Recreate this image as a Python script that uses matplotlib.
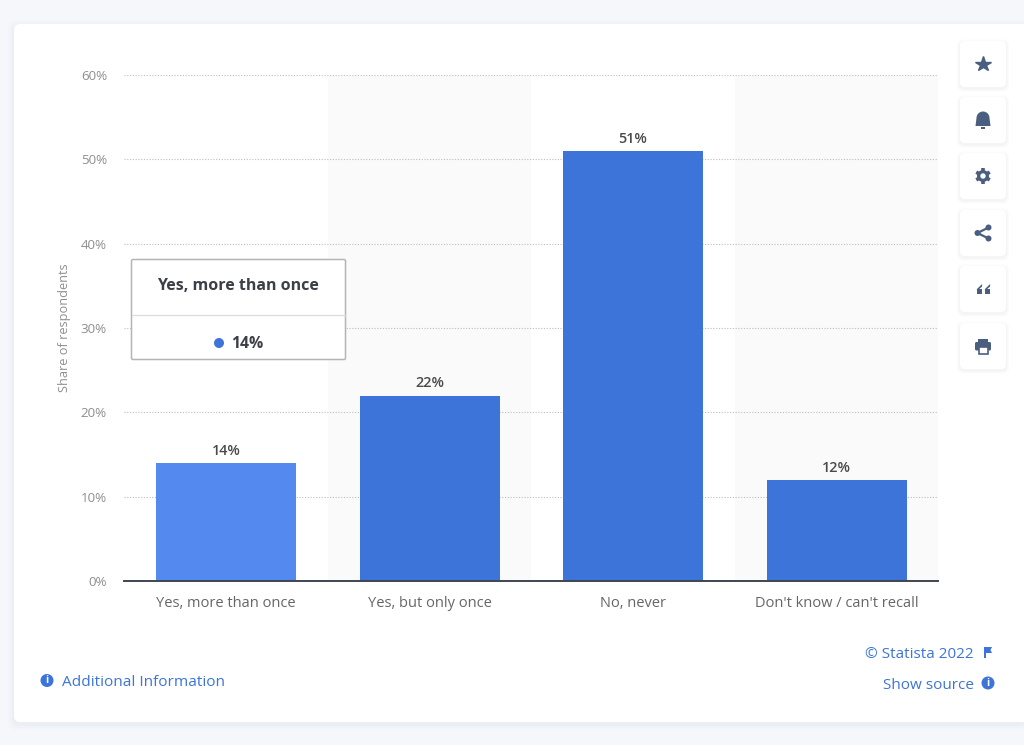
import math
import matplotlib
matplotlib.use("Agg")
import matplotlib.pyplot as plt
from matplotlib.patches import FancyBboxPatch, Rectangle, Circle, Polygon, Wedge
from matplotlib.lines import Line2D

categories = ["Yes, more than once", "Yes, but only once", "No, never", "Don't know / can't recall"]
values = [14, 22, 51, 12]
bar_colors = ["#5489F0", "#3D74D9", "#3D74D9", "#3D74D9"]
y_ticks = [0, 10, 20, 30, 40, 50, 60]
y_label = "Share of respondents"
tooltip_title = "Yes, more than once"
tooltip_value = "14%"

plt.rcParams['font.family'] = ['Open Sans', 'DejaVu Sans']
W, H = 1024, 745
fig = plt.figure(figsize=(W / 100, H / 100), dpi=100, facecolor="#F5F7FB")

# page overlay in pixel coordinates
bg = fig.add_axes([0, 0, 1, 1], zorder=0)
bg.set_xlim(0, W); bg.set_ylim(H, 0); bg.axis("off")
for i, a in [(6, 0.012), (4, 0.015), (2, 0.02)]:
    bg.add_patch(FancyBboxPatch((14 - i, 24 - i + 2), 1010 + 2 * i, 698 + 2 * i,
                                boxstyle="round,pad=0,rounding_size=8", fc="#445577", ec="none", alpha=a))
bg.add_patch(FancyBboxPatch((14, 24), 1020, 698, boxstyle="round,pad=0,rounding_size=6",
                            fc="white", ec="none"))

# chart axes
ax = fig.add_axes([124.3 / W, 1 - 581.0 / H, (938.3 - 124.3) / W, (581.0 - 75.1) / H], zorder=1)
ax.patch.set_alpha(0)
ax.set_xlim(-0.5, 3.5)
ax.set_ylim(0, 60)
x = range(len(categories))
for i in x:
    if i % 2 == 1:
        ax.axvspan(i - 0.5, i + 0.5, color="#FAFAFA", lw=0, zorder=0)
ax.set_yticks(y_ticks)
ax.set_yticklabels([f"{t}%" for t in y_ticks], fontsize=9.6, color="#8F8F8F")
ax.set_xticks(list(x))
ax.set_xticklabels(categories, fontsize=10.5, color="#666666")
ax.tick_params(axis="both", length=0)
ax.tick_params(axis="x", pad=10.8)
ax.tick_params(axis="y", pad=12.5)
ax.grid(axis="y", color="#BDBDBD", lw=0.8, ls=(0, (1, 1.5)), zorder=1)
ax.set_axisbelow(True)
for s in ["top", "right", "left"]:
    ax.spines[s].set_visible(False)
ax.spines["bottom"].set_color("#3F4650")
ax.spines["bottom"].set_linewidth(1.4)
bars = ax.bar(list(x), values, width=0.688, color=bar_colors, zorder=2)
for xi, v in zip(x, values):
    ax.annotate(f"{v}%", (xi, v), xytext=(0, 3.8), textcoords="offset points", ha="center", va="bottom",
                fontsize=10.4, color="#4A4A4A", fontweight="semibold", zorder=3)
ax.set_ylabel(y_label, fontsize=9.2, color="#8F8F8F", labelpad=0)
ax.yaxis.set_label_coords((71 - 124) / (938 - 124), (581 - 328) / (581 - 75))

# overlay
ov = fig.add_axes([0, 0, 1, 1], zorder=2)
ov.set_xlim(0, W); ov.set_ylim(H, 0); ov.axis("off"); ov.patch.set_alpha(0)

# tooltip
ov.add_patch(FancyBboxPatch((131.5, 259.5), 214, 100, boxstyle="round,pad=0,rounding_size=1.5",
                            fc="white", ec="#B5B5B5", lw=1.1))
ov.add_line(Line2D([132, 345], [314.5, 314.5], color="#DCDCDC", lw=0.9))
ov.text(238, 286.5, tooltip_title, ha="center", va="center", fontsize=11.5, fontweight="bold", color="#3C3F48")
ov.add_patch(Circle((219, 343), 5, fc="#3D74D9", ec="none"))
ov.text(231, 344, tooltip_value, ha="left", va="center", fontsize=11.3, fontweight="bold", color="#3C3F48")

# side buttons
icon = "#4A5F80"
ys = [64, 120, 176, 233, 289, 346]
for y in ys:
    for i, a in [(3, 0.02), (1.5, 0.03)]:
        ov.add_patch(FancyBboxPatch((960 - i, y - 23 - i + 1.5), 46 + 2 * i, 46 + 2 * i,
                                    boxstyle="round,pad=0,rounding_size=6", fc="#445577", ec="none", alpha=a))
    ov.add_patch(FancyBboxPatch((960, y - 23), 46, 46, boxstyle="round,pad=0,rounding_size=5",
                                fc="white", ec="none"))
ov.plot(983, ys[0], marker="*", ms=11.5, color=icon, mec=icon, ls="none")
# bell
ov.add_patch(Wedge((983, ys[1] - 2), 6.5, 180, 360, fc=icon, ec="none"))
ov.add_patch(Polygon([(976.5, ys[1] - 2), (989.5, ys[1] - 2), (990.5, ys[1] + 6), (975.5, ys[1] + 6)], fc=icon, ec="none"))
ov.add_patch(Rectangle((981, ys[1] + 7), 4, 1.5, fc=icon, ec="none"))
# gear
ov.add_patch(Circle((983, ys[2]), 6, fc=icon, ec="none", zorder=4))
for k in range(6):
    a = math.radians(60 * k + 30)
    ov.add_line(Line2D([983, 983 + 7.8 * math.cos(a)], [ys[2], ys[2] + 7.8 * math.sin(a)],
                       color=icon, lw=2.6, solid_capstyle="butt", zorder=4))
ov.add_patch(Circle((983, ys[2]), 2.7, fc="white", ec="none", zorder=5))
# share
pts = [(988.5, ys[3] - 5.5), (977.5, ys[3]), (988.5, ys[3] + 5.5)]
ov.add_line(Line2D([p[0] for p in pts], [p[1] for p in pts], color=icon, lw=1.6))
for p in pts:
    ov.add_patch(Circle(p, 3, fc=icon, ec="none"))
# quote
for qx in (976.5, 984.5):
    ov.add_patch(Rectangle((qx, ys[4] - 0.5), 5.6, 5.5, fc=icon, ec="none"))
    ov.add_patch(Polygon([(qx, ys[4] + 0.5), (qx + 5.6, ys[4] - 5), (qx + 5.6, ys[4] - 2.5), (qx + 2.2, ys[4] + 0.5)],
                         fc=icon, ec="none"))
# print
ov.add_patch(FancyBboxPatch((975, ys[5] - 4), 16, 8.5, boxstyle="round,pad=0,rounding_size=1.5", fc=icon, ec="none"))
ov.add_patch(Rectangle((978, ys[5] - 7.5), 10, 4, fc=icon, ec="none"))
ov.add_patch(Rectangle((978.5, ys[5] + 1), 9, 6.5, fc="white", ec=icon, lw=1.2))

# footer
link = "#3D74D9"
def info(cx, cy):
    ov.add_patch(Circle((cx, cy), 6.5, fc=link, ec="none"))
    ov.text(cx, cy + 0.3, "i", ha="center", va="center", fontsize=7.5, fontweight="bold", color="white")
info(47, 680.5)
ov.text(62, 682.5, "Additional Information", ha="left", va="center", fontsize=11.1, color=link)
ov.text(974, 654.5, "© Statista 2022", ha="right", va="center", fontsize=11, color=link)
ov.add_patch(Polygon([(984, 647), (992, 647), (990.5, 650), (992, 653), (986, 653), (986, 658), (984, 658)], fc=link, ec="none"))
ov.text(974, 685.5, "Show source", ha="right", va="center", fontsize=11, color=link)
info(988, 683)

fig.savefig("out.png", dpi=100, facecolor=fig.get_facecolor())
